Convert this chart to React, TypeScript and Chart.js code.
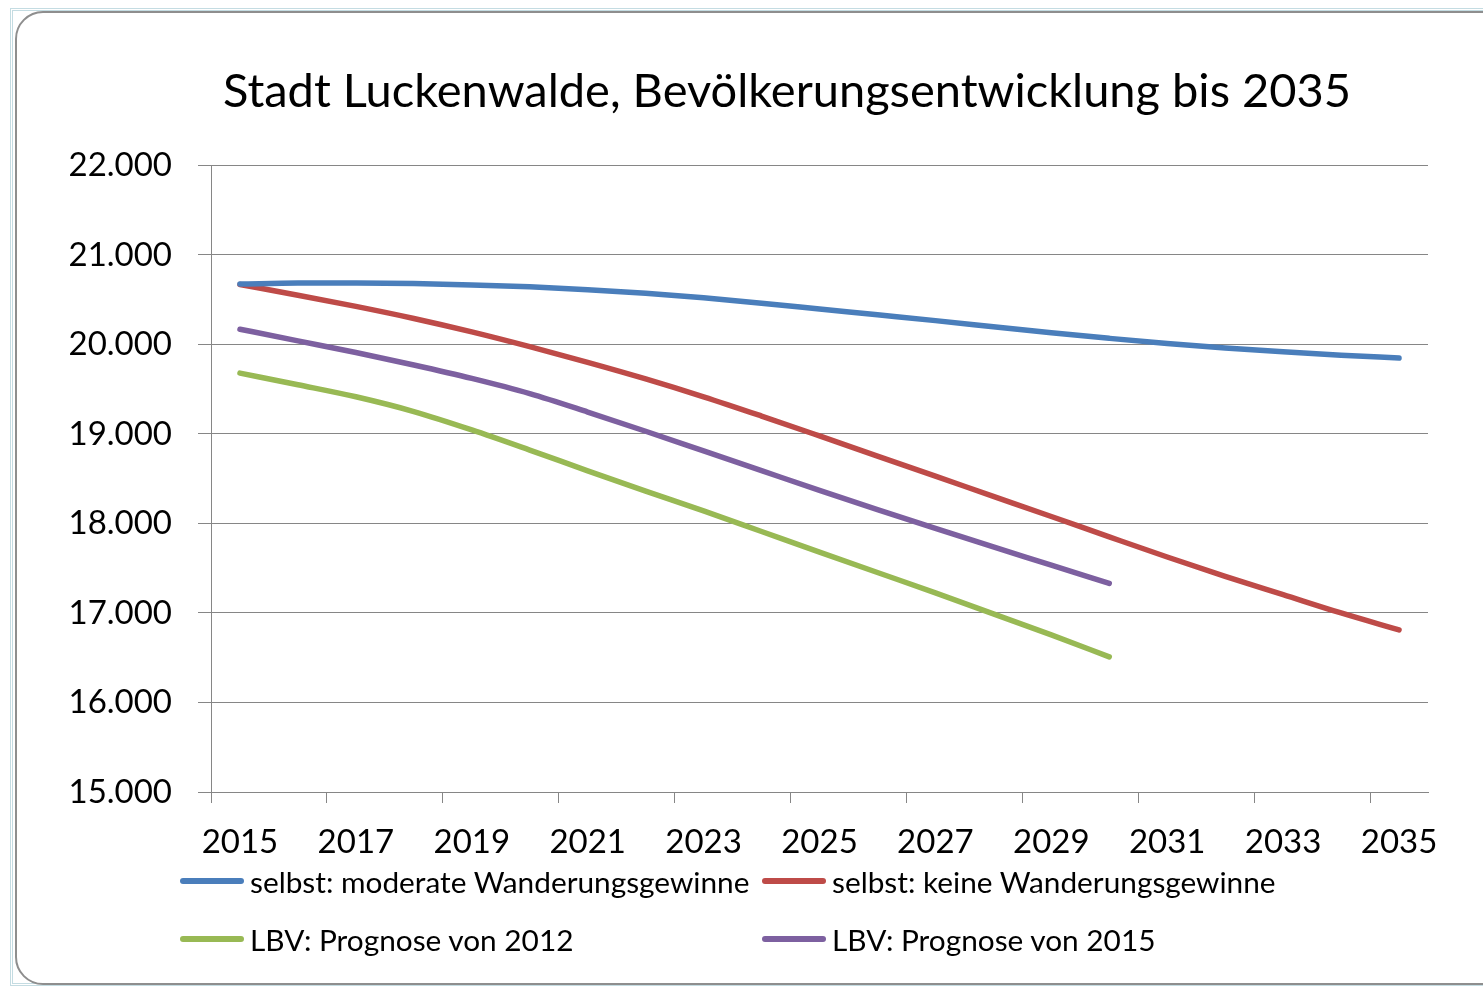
import React, { useEffect, useRef } from "react";
import { Chart, registerables } from "chart.js";

Chart.register(...registerables);

const chartTitle = "Stadt Luckenwalde, Bevölkerungsentwicklung bis 2035";

const years = [
  "2015", "2016", "2017", "2018", "2019", "2020", "2021", "2022", "2023", "2024",
  "2025", "2026", "2027", "2028", "2029", "2030", "2031", "2032", "2033", "2034", "2035",
];

const selbstModerat = [
  20675, 20685, 20685, 20680, 20665, 20643, 20611, 20571, 20521, 20461,
  20396, 20331, 20266, 20198, 20130, 20068, 20010, 19960, 19918, 19880, 19848,
];

const selbstKeine = [
  20670, 20550, 20425, 20290, 20140, 19975, 19800, 19615, 19415, 19200,
  18978, 18753, 18528, 18303, 18078, 17850, 17625, 17410, 17205, 17000, 16810,
];

const lbv2012 = [
  19680, 19550, 19415, 19250, 19045, 18820, 18588, 18362, 18140, 17910,
  17680, 17452, 17225, 16990, 16755, 16510,
];

const lbv2015 = [
  20170, 20040, 19910, 19770, 19620, 19450, 19245, 19030, 18810, 18590,
  18370, 18155, 17945, 17738, 17535, 17330,
];

const seriesLabels = [
  "selbst: moderate Wanderungsgewinne",
  "selbst: keine Wanderungsgewinne",
  "LBV: Prognose von 2012",
  "LBV: Prognose von 2015",
];

const seriesColors = ["#4a7ebb", "#be4b48", "#98b954", "#7d60a0"];

const yMin = 15000;
const yMax = 22000;
const yStep = 1000;

const FONT = "Lato";
const GRID = "#868686";

function fmtThousands(v: number): string {
  const s = Math.round(v).toString();
  return s.replace(/\B(?=(\d{3})+(?!\d))/g, ".");
}

export default function App() {
  const canvasRef = useRef<HTMLCanvasElement | null>(null);

  useEffect(() => {
    const canvas = canvasRef.current;
    if (!canvas) return;
    const seriesData = [selbstModerat, selbstKeine, lbv2012, lbv2015];
    const chart = new Chart(canvas, {
      type: "line",
      data: {
        labels: years,
        datasets: seriesData.map((d, i) => ({
          label: seriesLabels[i],
          data: d,
          borderColor: seriesColors[i],
          backgroundColor: seriesColors[i],
          borderWidth: 5.5,
          pointRadius: 0,
          fill: false,
          cubicInterpolationMode: "monotone" as const,
          borderCapStyle: "round" as const,
          borderJoinStyle: "round" as const,
        })),
      },
      options: {
        animation: false,
        responsive: false,
        devicePixelRatio: 1,
        layout: { padding: 0 },
        plugins: {
          legend: { display: false },
          tooltip: { enabled: false },
          title: {
            display: true,
            text: chartTitle,
            color: "#000",
            font: { family: FONT, size: 47, weight: "normal" },
            padding: { top: 52, bottom: 45 },
          },
        },
        scales: {
          x: {
            type: "category",
            offset: true,
            grid: {
              offset: true,
              drawOnChartArea: false,
              drawTicks: true,
              tickLength: 11,
              lineWidth: 1,
              color: (ctx: any) => (ctx.index % 2 === 0 ? GRID : "rgba(0,0,0,0)"),
            },
            border: { display: true, color: GRID, width: 1 },
            ticks: {
              autoSkip: false,
              maxRotation: 0,
              minRotation: 0,
              padding: 20,
              color: "#000",
              font: { family: FONT, size: 33 },
              callback: (_v: any, i: number) => (i % 2 === 0 ? years[i] : ""),
            },
            afterFit: (s: any) => {
              s.height = 78;
            },
          },
          y: {
            type: "linear",
            min: yMin,
            max: yMax,
            grid: { color: GRID, lineWidth: 1, tickLength: 13, drawTicks: true },
            border: { display: true, color: GRID, width: 1 },
            ticks: {
              stepSize: yStep,
              padding: 26,
              color: "#000",
              font: { family: FONT, size: 33 },
              callback: (v: any) => fmtThousands(Number(v)),
            },
            afterFit: (s: any) => {
              s.width = 194;
            },
          },
          yRight: {
            type: "linear",
            position: "right",
            display: true,
            grid: { display: false, drawTicks: false },
            border: { display: false },
            ticks: { display: false },
            afterFit: (s: any) => {
              s.width = 129;
            },
          },
        },
      } as any,
    });
    return () => chart.destroy();
  }, []);

  return (
    <div
      style={{
        position: "absolute",
        left: 0,
        top: 0,
        width: 1483,
        height: 990,
        overflow: "hidden",
        background: "#fff",
      }}
    >
      <div
        style={{
          position: "absolute",
          left: 10,
          top: 8,
          width: 1520,
          height: 978,
          border: "3px double #c4dce2",
          boxSizing: "border-box",
        }}
      />
      <div
        style={{
          position: "absolute",
          left: 15,
          top: 11,
          width: 1520,
          height: 974,
          border: "2px solid #8e8e8e",
          borderRadius: 28,
          boxSizing: "border-box",
          background: "#fff",
        }}
      />
      <canvas
        ref={canvasRef}
        width={1540}
        height={858}
        style={{ position: "absolute", left: 17, top: 12, width: 1540, height: 858 }}
      />
      <div
        style={{
          position: "absolute",
          left: 180,
          top: 852,
          display: "grid",
          gridTemplateColumns: "582px 582px",
          gridAutoRows: "58px",
          fontFamily: FONT,
          fontSize: 29.8,
          color: "#000",
        }}
      >
        {seriesLabels.map((lab, i) => (
          <div key={lab} style={{ display: "flex", alignItems: "center", whiteSpace: "nowrap" }}>
            <span
              style={{
                display: "inline-block",
                width: 64,
                height: 6,
                borderRadius: 3,
                background: seriesColors[i],
                marginRight: 6,
              }}
            />
            <span>{lab}</span>
          </div>
        ))}
      </div>
    </div>
  );
}
